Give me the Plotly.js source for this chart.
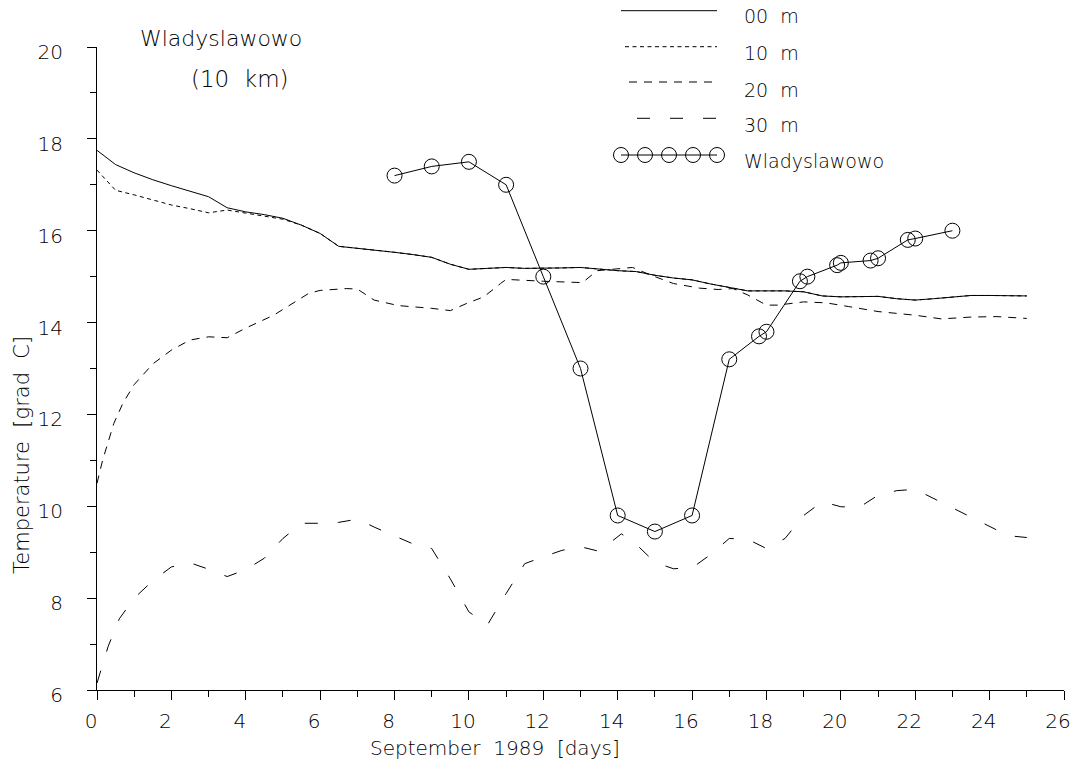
<!DOCTYPE html>
<html>
<head>
<meta charset="utf-8">
<script src="https://cdn.plot.ly/plotly-3.0.1.min.js"></script>
<style>html,body{margin:0;padding:0;background:#fff;}</style>
</head>
<body>
<div id="chart" style="width:1073px;height:767px;"></div>
<script>
// ---- data ----
var days00 = [0,0.5,1,1.5,2,2.5,3,3.5,4,4.5,5,5.5,6,6.5,7,7.5,8,8.5,9,9.5,10,10.5,11,11.5,12,12.5,13,13.5,14,14.5,15,15.5,16,16.5,17,17.5,18,18.5,19,19.5,20,20.5,21,21.5,22,22.5,23,23.5,24,24.5,25];
var temp00 = [17.75,17.44,17.26,17.11,16.98,16.86,16.74,16.5,16.41,16.35,16.27,16.12,15.94,15.66,15.62,15.58,15.53,15.48,15.42,15.27,15.16,15.18,15.2,15.18,15.18,15.19,15.2,15.16,15.13,15.11,15.03,14.97,14.93,14.84,14.76,14.69,14.69,14.69,14.67,14.58,14.56,14.56,14.57,14.52,14.49,14.52,14.56,14.59,14.59,14.58,14.58];
var days10 = [0,0.5,1,1.5,2,2.5,3,3.5,4,4.5,5,5.5,6,6.5,7,7.5,8,8.5,9,9.5,10,10.5,11,11.5,12,12.5,13,13.5,14,14.5,15,15.5,16,16.5,17,17.5,18,18.5,19,19.5,20,20.5,21,21.5,22,22.5,23,23.5,24,24.5,25];
var temp10 = [17.32,16.88,16.78,16.67,16.56,16.48,16.39,16.45,16.38,16.32,16.25,16.12,15.94,15.66,15.62,15.58,15.53,15.48,15.42,15.27,15.16,15.18,15.2,15.18,15.18,15.19,15.2,15.16,15.13,15.11,15.03,14.97,14.93,14.84,14.76,14.69,14.69,14.69,14.67,14.58,14.56,14.56,14.57,14.52,14.49,14.52,14.56,14.59,14.59,14.58,14.58];
var days20 = [0,0.15,0.45,0.7,1,1.5,2,2.5,3,3.5,4,4.75,5.7,6.0,6.7,7.0,7.45,8.1,9.0,9.5,9.95,10.4,10.85,11.0,12.0,13.05,13.45,14.4,14.9,15.5,16.2,16.7,17.1,17.5,18.0,18.3,19.0,19.6,20.2,21.0,22.0,22.7,23.5,24.2,25.0];
var temp20 = [10.5,11.0,11.8,12.25,12.65,13.1,13.4,13.62,13.69,13.67,13.88,14.16,14.64,14.7,14.74,14.73,14.49,14.37,14.31,14.26,14.42,14.56,14.85,14.94,14.9,14.87,15.13,15.2,15.03,14.85,14.75,14.72,14.74,14.6,14.38,14.38,14.45,14.43,14.35,14.24,14.16,14.08,14.12,14.13,14.09];
var days30 = [0,0.3,0.6,1,1.5,2,2.5,3,3.5,4,4.5,5,5.5,6,6.5,7,7.5,8,8.5,9,9.5,10,10.5,11,11.5,12,12.5,13,13.5,14.1,14.5,15,15.5,16,16.5,17,17.5,18,18.5,19,19.5,20,20.5,21,21.5,22,22.5,23,23.5,24,24.5,25];
var temp30 = [6.15,6.95,7.55,8.0,8.38,8.68,8.77,8.63,8.47,8.62,8.87,9.3,9.63,9.63,9.65,9.72,9.53,9.35,9.18,9.08,8.42,7.7,7.42,8.1,8.75,8.9,9.04,9.12,9.02,9.4,9.17,8.78,8.64,8.66,8.95,9.3,9.28,9.08,9.3,9.8,10.1,9.99,9.98,10.24,10.34,10.37,10.17,9.96,9.77,9.56,9.36,9.32];
var daysWlad = [8,9,10,11,12,13,14,15,16,17,17.8,18,18.9,19.1,19.9,20,20.8,21,21.8,22,23];
var tempWlad = [17.2,17.4,17.5,17.0,15.0,13.0,9.8,9.45,9.8,13.2,13.7,13.8,14.9,15.0,15.25,15.3,15.35,15.4,15.8,15.83,16.0];
var seriesNames = ["00\u00a0\u00a0m","10\u00a0\u00a0m","20\u00a0\u00a0m","30\u00a0\u00a0m","Wladyslawowo"];
var xTickVals = [0,2,4,6,8,10,12,14,16,18,20,22,24,26];
var yTickVals = [6,8,10,12,14,16,18,20];

// ---- layout helpers (pixel -> paper) ----
var W = 1073, H = 767, ML = 97, MR = 9, MT = 47, MB = 77;
var PW = W - ML - MR, PH = H - MT - MB;
function px(x){ return (x - ML) / PW; }
function py(y){ return (H - MB - y) / PH; }

var FONT = "DejaVu Sans ExtraLight, DejaVu Sans, Liberation Sans, sans-serif";
var FW = 200;
var INK = "#000";
var TXT = "#000";
var dashes = ["solid", "4px,3.5px", "8px,7px", "13px,20px"];

var traces = [
  {x: days00, y: temp00, mode: "lines", line: {color: INK, width: 1, dash: dashes[0]}, name: seriesNames[0]},
  {x: days10, y: temp10, mode: "lines", line: {color: INK, width: 1, dash: dashes[1]}, name: seriesNames[1]},
  {x: days20, y: temp20, mode: "lines", line: {color: INK, width: 1, dash: dashes[2]}, name: seriesNames[2]},
  {x: days30, y: temp30, mode: "lines", line: {color: INK, width: 1, dash: dashes[3]}, name: seriesNames[3]},
  {x: daysWlad, y: tempWlad, mode: "lines+markers", line: {color: INK, width: 1},
   marker: {symbol: "circle-open", size: 15, color: INK, line: {width: 1, color: INK}}, name: seriesNames[4]}
];

// legend drawn as layout shapes + annotations
var legendY = [10.7, 46.7, 82, 118.3, 155];
var legendTextY = [16.3, 53.3, 89.7, 125, 161];
var legendStart = [621, 625, 629, 637];
var shapes = [];
var annotations = [];
for (var i = 0; i < 4; i++) {
  shapes.push({type: "line", xref: "paper", yref: "paper",
    x0: px(legendStart[i]), x1: px(717), y0: py(legendY[i]), y1: py(legendY[i]),
    line: {color: INK, width: 1, dash: dashes[i]}});
}
shapes.push({type: "line", xref: "paper", yref: "paper",
  x0: px(621), x1: px(717), y0: py(legendY[4]), y1: py(legendY[4]), line: {color: INK, width: 1}});
var circX = [621, 645, 669, 693, 717];
for (var k = 0; k < circX.length; k++) {
  shapes.push({type: "circle", xref: "paper", yref: "paper",
    x0: px(circX[k] - 7.5), x1: px(circX[k] + 7.5), y0: py(legendY[4] + 7.5), y1: py(legendY[4] - 7.5),
    line: {color: INK, width: 1}, fillcolor: "rgba(0,0,0,0)"});
}
function f(size){ return {family: FONT, size: size, color: TXT, weight: FW}; }
for (var j = 0; j < 5; j++) {
  annotations.push({xref: "paper", yref: "paper", x: px(742), y: py(legendTextY[j]),
    xanchor: "left", yanchor: "middle", showarrow: false, text: seriesNames[j], font: f(19)});
}
annotations.push({xref: "paper", yref: "paper", x: px(221), y: py(38), xanchor: "center", yanchor: "middle",
  showarrow: false, text: "Wladyslawowo", font: f(22)});
annotations.push({xref: "paper", yref: "paper", x: px(240), y: py(79), xanchor: "center", yanchor: "middle",
  showarrow: false, text: "(10\u00a0\u00a0km)", font: f(23)});
annotations.push({xref: "paper", yref: "paper", x: px(495), y: py(748), xanchor: "center", yanchor: "middle",
  showarrow: false, text: "September\u00a0\u00a01989\u00a0\u00a0[days]", font: f(20)});
annotations.push({xref: "paper", yref: "paper", x: px(22), y: py(455), xanchor: "center", yanchor: "middle",
  textangle: -90, showarrow: false, text: "Temperature\u00a0\u00a0[grad\u00a0\u00a0C]", font: f(21)});

var layout = {
  width: W, height: H,
  margin: {l: ML, r: MR, t: MT, b: MB, pad: 0},
  paper_bgcolor: "#fff", plot_bgcolor: "#fff",
  showlegend: false,
  font: f(20),
  xaxis: {
    range: [0, 26], tickvals: xTickVals, ticktext: xTickVals.map(String),
    ticks: "outside", ticklen: 9, tickwidth: 1, tickcolor: INK,
    minor: {dtick: 1, tick0: 0, ticks: "outside", ticklen: 6, tickwidth: 1, tickcolor: INK},
    showline: true, linecolor: INK, linewidth: 1, showgrid: false, zeroline: false,
    tickfont: f(20), ticklabelshift: -6, ticklabelstandoff: 4
  },
  yaxis: {
    range: [6, 20], tickvals: yTickVals, ticktext: yTickVals.map(String),
    ticks: "outside", ticklen: 9, tickwidth: 1, tickcolor: INK,
    minor: {dtick: 1, tick0: 0, ticks: "outside", ticklen: 6, tickwidth: 1, tickcolor: INK},
    showline: true, linecolor: INK, linewidth: 1, showgrid: false, zeroline: false,
    tickfont: f(20), ticklabelshift: 5, ticklabelstandoff: 20
  },
  shapes: shapes,
  annotations: annotations
};

Plotly.newPlot("chart", traces, layout, {displayModeBar: false, staticPlot: true});
</script>
</body>
</html>
